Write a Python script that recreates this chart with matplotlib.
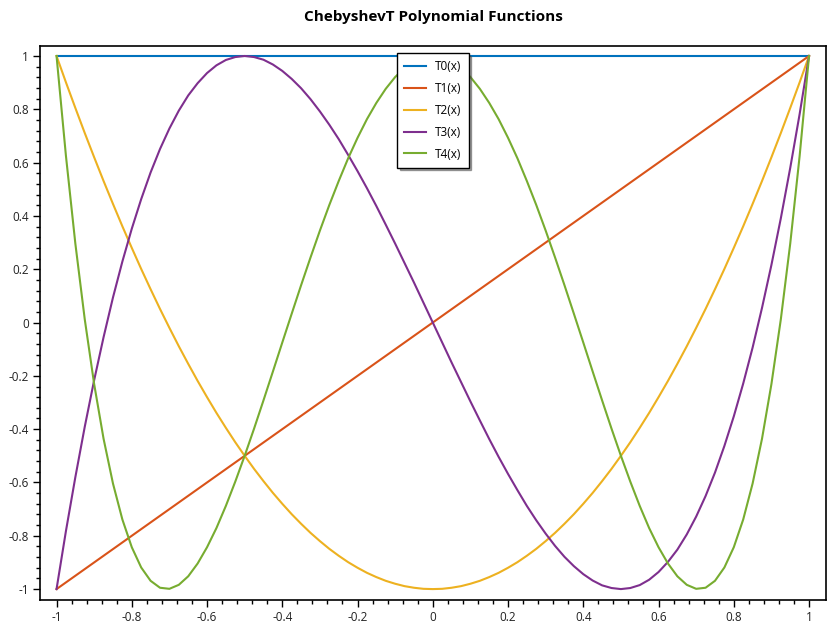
import numpy as np
import matplotlib.pyplot as plt

plt.rcParams['font.family'] = ['Open Sans', 'DejaVu Sans']

# x samples (step 0.025) and values
x = np.round(np.linspace(-1, 1, 81), 3)

t0 = [1.0] * 81
t1 = [-1.0, -0.975, -0.95, -0.925, -0.9, -0.875, -0.85, -0.825, -0.8, -0.775,
      -0.75, -0.725, -0.7, -0.675, -0.65, -0.625, -0.6, -0.575, -0.55, -0.525,
      -0.5, -0.475, -0.45, -0.425, -0.4, -0.375, -0.35, -0.325, -0.3, -0.275,
      -0.25, -0.225, -0.2, -0.175, -0.15, -0.125, -0.1, -0.075, -0.05, -0.025,
      0.0, 0.025, 0.05, 0.075, 0.1, 0.125, 0.15, 0.175, 0.2, 0.225,
      0.25, 0.275, 0.3, 0.325, 0.35, 0.375, 0.4, 0.425, 0.45, 0.475,
      0.5, 0.525, 0.55, 0.575, 0.6, 0.625, 0.65, 0.675, 0.7, 0.725,
      0.75, 0.775, 0.8, 0.825, 0.85, 0.875, 0.9, 0.925, 0.95, 0.975, 1.0]
t2 = [1.0, 0.901, 0.805, 0.711, 0.62, 0.531, 0.445, 0.361, 0.28, 0.201,
      0.125, 0.051, -0.02, -0.089, -0.155, -0.219, -0.28, -0.339, -0.395, -0.449,
      -0.5, -0.549, -0.595, -0.639, -0.68, -0.719, -0.755, -0.789, -0.82, -0.849,
      -0.875, -0.899, -0.92, -0.939, -0.955, -0.969, -0.98, -0.989, -0.995, -0.999,
      -1.0, -0.999, -0.995, -0.989, -0.98, -0.969, -0.955, -0.939, -0.92, -0.899,
      -0.875, -0.849, -0.82, -0.789, -0.755, -0.719, -0.68, -0.639, -0.595, -0.549,
      -0.5, -0.449, -0.395, -0.339, -0.28, -0.219, -0.155, -0.089, -0.02, 0.051,
      0.125, 0.201, 0.28, 0.361, 0.445, 0.531, 0.62, 0.711, 0.805, 0.901, 1.0]
t3 = [-1.0, -0.782, -0.58, -0.391, -0.216, -0.055, 0.094, 0.229, 0.352, 0.463,
      0.563, 0.651, 0.728, 0.795, 0.852, 0.898, 0.936, 0.965, 0.985, 0.996,
      1.0, 0.996, 0.986, 0.968, 0.944, 0.914, 0.879, 0.838, 0.792, 0.742,
      0.688, 0.629, 0.568, 0.504, 0.437, 0.367, 0.296, 0.223, 0.15, 0.075,
      0.0, -0.075, -0.15, -0.223, -0.296, -0.367, -0.437, -0.504, -0.568, -0.629,
      -0.688, -0.742, -0.792, -0.838, -0.879, -0.914, -0.944, -0.968, -0.986, -0.996,
      -1.0, -0.996, -0.985, -0.965, -0.936, -0.898, -0.852, -0.795, -0.728, -0.651,
      -0.563, -0.463, -0.352, -0.229, -0.094, 0.055, 0.216, 0.391, 0.58, 0.782, 1.0]
t4 = [1.0, 0.625, 0.296, 0.012, -0.231, -0.436, -0.604, -0.739, -0.843, -0.919,
      -0.969, -0.995, -0.999, -0.984, -0.952, -0.904, -0.843, -0.771, -0.688, -0.597,
      -0.5, -0.398, -0.292, -0.184, -0.075, 0.033, 0.14, 0.244, 0.345, 0.441,
      0.531, 0.616, 0.693, 0.763, 0.824, 0.877, 0.921, 0.955, 0.98, 0.995,
      1.0, 0.995, 0.98, 0.955, 0.921, 0.877, 0.824, 0.763, 0.693, 0.616,
      0.531, 0.441, 0.345, 0.244, 0.14, 0.033, -0.075, -0.184, -0.292, -0.398,
      -0.5, -0.597, -0.688, -0.771, -0.843, -0.904, -0.952, -0.984, -0.999, -0.995,
      -0.969, -0.919, -0.843, -0.739, -0.604, -0.436, -0.231, 0.012, 0.296, 0.625, 1.0]

series = [('T0(x)', t0, '#0072BD'), ('T1(x)', t1, '#D95319'),
          ('T2(x)', t2, '#EDB120'), ('T3(x)', t3, '#7E2F8E'),
          ('T4(x)', t4, '#77AC30')]

fig = plt.figure(figsize=(8.4, 6.3), dpi=100)
ax = fig.add_axes([0.0476, 0.0476, 0.9357, 0.8794])

for name, vals, col in series:
    ax.plot(x, vals, color=col, linewidth=1.5, label=name)

ticklabels = ['-1', '-0.8', '-0.6', '-0.4', '-0.2', '0', '0.2', '0.4', '0.6', '0.8', '1']
ax.set_xlim(-1.044, 1.045)
ax.set_ylim(-1.041, 1.0375)
ax.set_xticks(np.arange(-1, 1.01, 0.2))
ax.set_yticks(np.arange(-1, 1.01, 0.2))
ax.set_xticks(np.arange(-1, 1.001, 0.04), minor=True)
ax.set_yticks(np.arange(-1, 1.001, 0.04), minor=True)
ax.set_xticklabels(ticklabels)
ax.set_yticklabels(ticklabels)
ax.tick_params(which='major', length=5, width=1, labelsize=8.5, labelcolor='#222222', pad=3)
ax.tick_params(which='minor', length=3, width=1)
for s in ax.spines.values():
    s.set_linewidth(1.2)

ax.set_title('ChebyshevT Polynomial Functions', fontsize=11, fontweight='bold', pad=18)

leg = ax.legend(loc='upper left', bbox_to_anchor=(0.447, 0.998), fontsize=8.5,
                frameon=True, fancybox=False, shadow=True, handlelength=1.8,
                labelspacing=0.75, borderpad=0.6, framealpha=1)
leg.get_frame().set_edgecolor('black')
leg.get_frame().set_linewidth(1)

plt.savefig('out.png', dpi=100)
